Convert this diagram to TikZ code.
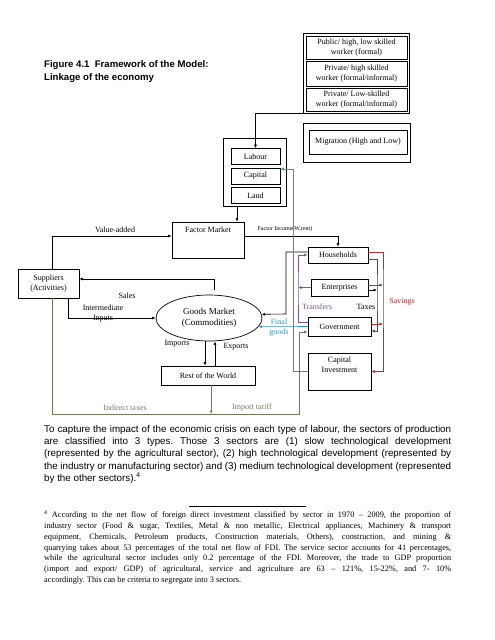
\documentclass[tikz,border=0pt]{standalone}
\usepackage{fontspec}
\setmainfont{Liberation Serif}
\setsansfont{Liberation Sans}
\usetikzlibrary{shapes.geometric, arrows.meta, positioning, fit}
\definecolor{taxcolor}{RGB}{112, 124, 92}
\definecolor{goodscolor}{RGB}{52, 146, 204}
\definecolor{transfercolor}{RGB}{124, 84, 156}
\definecolor{savingcolor}{RGB}{186, 44, 48}

\begin{document}
\begin{tikzpicture}[
    x=1pt, y=-1pt,
    box/.style={draw, line width=0.7pt, inner sep=0pt, text centered, font=\fontsize{8}{9.5}\selectfont},
    outerbox/.style={draw, line width=0.9pt, inner sep=0pt},
    lbl/.style={inner sep=0pt, font=\fontsize{8}{10}\selectfont},
    arrow/.style={-{Latex[length=3.5pt,width=3pt]}, line width=0.6pt},
    taxline/.style={arrow, draw=taxcolor},
    goodsline/.style={arrow, draw=goodscolor},
    transferline/.style={arrow, draw=transfercolor},
    savingline/.style={arrow, draw=savingcolor}
]
\useasboundingbox (0,0) rectangle (495,640);

% Title
\node[anchor=west, align=left, inner sep=0pt, font=\sffamily\bfseries\fontsize{9.6}{12.5}\selectfont] (title) at (44,71.5) {Figure 4.1\ \ Framework of the Model:\\Linkage of the economy};

% Labour types
\node[box, minimum width=101pt, minimum height=23pt, align=center] (pub) at (356.5,47.5) {Public/ high, low skilled\\worker (formal)};
\node[box, minimum width=101pt, minimum height=25pt, align=center] (prh) at (356.5,73.5) {Private/ high skilled\\worker (formal/informal)};
\node[box, minimum width=101pt, minimum height=23pt, align=center] (prl) at (356.5,99.5) {Private/ Low-skilled\\worker (formal/informal)};
\node[outerbox, fit=(pub)(prh)(prl), inner sep=2.5pt] (workers) {};

\node[box, minimum width=98pt, minimum height=24pt] (migr) at (358,142) {Migration (High and Low)};
\node[outerbox, minimum width=107pt, minimum height=39pt] (migrframe) at (356.5,142.5) {};

% Factors
\node[outerbox, minimum width=63pt, minimum height=68pt] (factors) at (254.5,172) {};
\node[box, minimum width=49pt, minimum height=16pt] (labour) at (255.5,156.5) {Labour};
\node[box, minimum width=49pt, minimum height=16pt] (capital) at (255.5,176) {Capital};
\node[box, minimum width=49pt, minimum height=16pt] (land) at (255.5,195.5) {Land};

% Markets and agents
\node[box, minimum width=72pt, minimum height=36pt, label={[lbl, anchor=north, yshift=-5pt]north:Factor Market}] (fm) at (208,240) {};
\node[box, minimum width=61pt, minimum height=29pt, align=center, font=\fontsize{8}{10.5}\selectfont] (supp) at (48.5,283.5) {Suppliers\\(Activities)};
\node[draw, ellipse, line width=0.7pt, minimum width=106pt, minimum height=46pt, inner sep=0pt, align=center, font=\fontsize{9}{10.5}\selectfont] (gm) at (209,318) {Goods Market\\(Commodities)};
\node[box, minimum width=94pt, minimum height=19pt] (row) at (208,375.5) {Rest of the World};

\node[box, minimum width=60pt, minimum height=16pt] (hh) at (338,255) {Households};
\node[box, minimum width=57pt, minimum height=17pt] (ent) at (339.5,287.5) {Enterprises};
\node[box, minimum width=63pt, minimum height=19pt] (gov) at (339.5,326.5) {Government};
\node[box, minimum width=63pt, minimum height=37pt, label={[lbl, anchor=north, align=center, yshift=-4pt]north:Capital\\Investment}] (ci) at (339.5,371.5) {};

% Turning points
\coordinate (taxcorner) at (299,414);
\coordinate (hhturn) at (286,314);
\coordinate (invturn) at (293,169);
\coordinate (trx) at (298,287.5);
\coordinate (taxx) at (377,290);
\coordinate (savx) at (383,285);

% Labels
\node[lbl] (valadd) at (115,230) {Value-added};
\node[lbl, font=\fontsize{6}{7}\selectfont] (facinc) at (285,229) {Factor Income(W,rent)};
\node[lbl] (sales) at (127,296) {Sales};
\node[lbl, align=center] (intin) at (103,314) {Intermediate\\Inputs};
\node[lbl] (imports) at (177,344) {Imports};
\node[lbl] (exports) at (236,347) {Exports};
\node[lbl, text=goodscolor, align=center] (final) at (279,328) {Final\\goods};
\node[lbl, text=transfercolor] (transfers) at (317,307) {Transfers};
\node[lbl] (taxes) at (366,307) {Taxes};
\node[lbl, text=savingcolor] (savings) at (402,302) {Savings};
\node[lbl, text=taxcolor] (indtax) at (125,408) {Indirect taxes};
\node[lbl, text=taxcolor] (imptar) at (252,408) {Import tariff};

% Arrows
\draw[arrow] ([yshift=1.5pt]workers.south west) -| (labour.north);
\draw[arrow] ([xshift=-17.5pt]factors.south) -- ([xshift=-17.5pt]factors.south |- fm.north);
\draw[arrow] ([xshift=3.5pt]supp.north) |- ([yshift=4pt]fm.west);
\draw[arrow] ([yshift=3.3pt]fm.east) -| (hh.north);
\draw[arrow] ([xshift=5pt,yshift=5pt]gm.north) |- ([yshift=4.5pt]supp.east);
\draw[arrow] ([xshift=19.5pt]supp.south) |- (gm.west);
\draw[arrow] ([xshift=-4pt]gm.south) -- ([xshift=-4pt]gm.south |- row.north);
\draw[arrow] ([xshift=7pt]row.north) -- ([xshift=6pt]gm.south);
\draw[arrow] ([yshift=3pt]hh.west) -| (hhturn) -- (gm.4);

\draw[goodsline] (gov.west) -- (gm.-10);
\draw[goodsline] (ci.west) -| (invturn) -- (capital.east |- invturn);

\draw[taxline] ([xshift=3pt]row.south) -- ([xshift=3pt]row.south |- taxcorner);
\draw[taxline] ([xshift=3.5pt]supp.south) |- (taxcorner) |- ([yshift=-5.5pt]gov.west);

\draw[transferline] ([yshift=4.5pt]gov.west) -| (trx) |- (hh.west);
\draw[transferline] (ent.west) -- (trx);

\draw[arrow, draw=black!70] ([yshift=-4pt]hh.east) -| (taxx) |- ([yshift=-4.5pt]gov.east);
\draw[arrow] ([yshift=-2.5pt]ent.east) -- (taxx);

\draw[savingline] ([yshift=3pt]hh.east) -| (savx) |- (ci.east);
\draw[savingline] ([yshift=2.5pt]ent.east) -- (savx);
\draw[savingline] ([yshift=2.5pt]gov.east) -- ([yshift=2.5pt]gov.east -| savx);

% Text below the figure
\node[anchor=north west, text width=407pt, align=justify, inner sep=0pt, font=\sffamily\fontsize{9.8}{12.3}\selectfont\frenchspacing] (para) at (44,425) {To capture the impact of the economic crisis on each type of labour, the sectors of production\linebreak
are classified into 3 types. Those 3 sectors are (1) slow technological development\linebreak
(represented by the agricultural sector), (2) high technological development (represented by\linebreak
the industry or manufacturing sector) and (3) medium technological development (represented\linebreak
by the other sectors).\textsuperscript{4}};

\draw[line width=0.8pt] (189,506) -- (306,506);
\node[anchor=north west, text width=407pt, align=justify, inner sep=0pt, font=\fontsize{8.3}{10.9}\selectfont\frenchspacing] (fn) at (44,510.5) {\textsuperscript{4} According to the net flow of foreign direct investment classified by sector in 1970 -- 2009, the proportion of\linebreak
industry sector (Food \& sugar, Textiles, Metal \& non metallic, Electrical appliances, Machinery \& transport\linebreak
equipment, Chemicals, Petroleum products, Construction materials, Others), construction, and mining \&\linebreak
quarrying takes about 53 percentages of the total net flow of FDI. The service sector accounts for 41 percentages,\linebreak
while the agricultural sector includes only 0.2 percentage of the FDI. Moreover, the trade to GDP proportion\linebreak
(import and export/ GDP) of agricultural, service and agriculture are 63 -- 121\%, 15-22\%, and 7- 10\%\linebreak
accordingly. This can be criteria to segregate into 3 sectors.};

\end{tikzpicture}
\end{document}
